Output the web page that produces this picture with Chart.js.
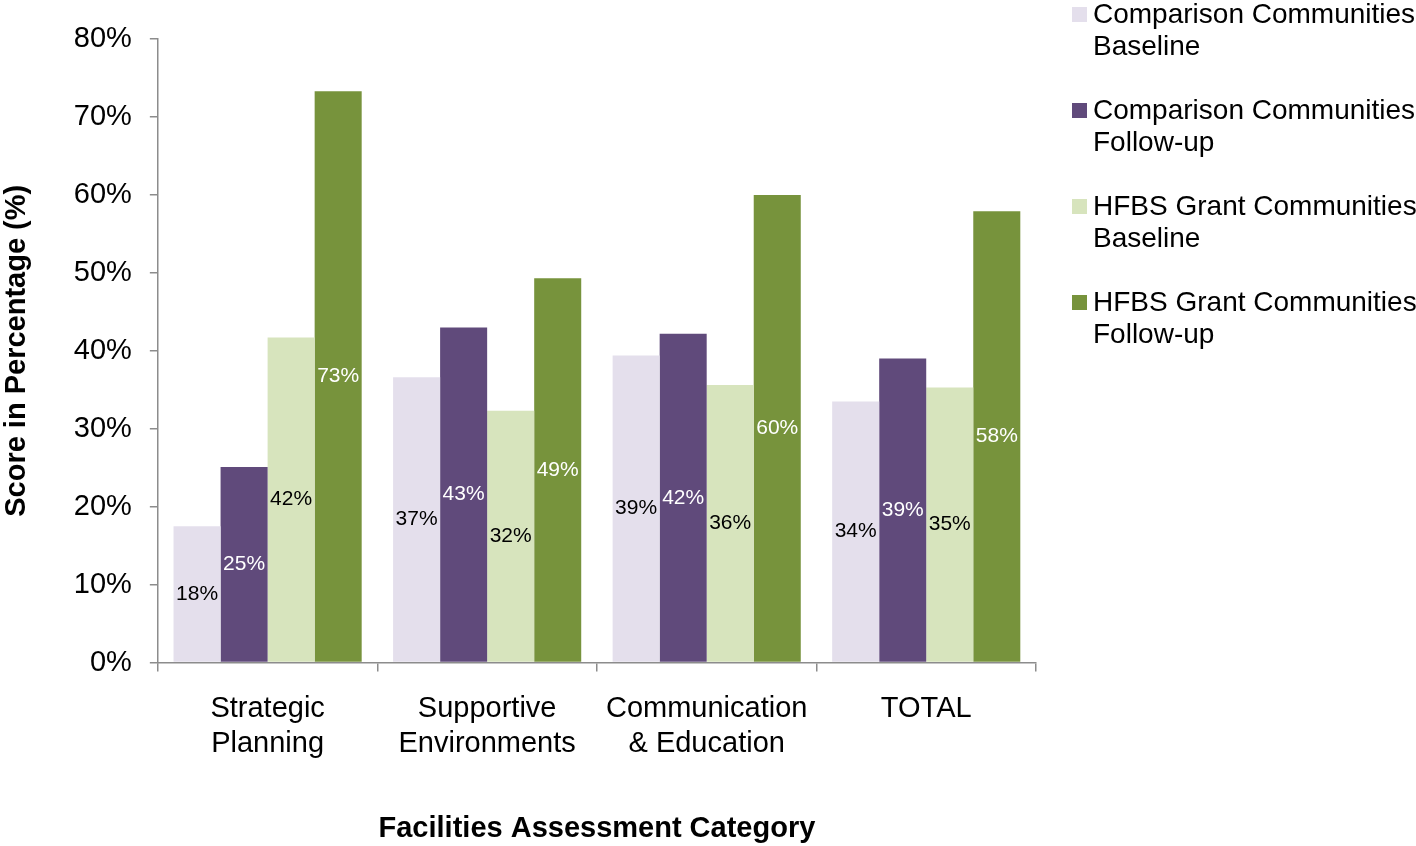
<!DOCTYPE html>
<html>
<head>
<meta charset="utf-8">
<script src="https://cdn.jsdelivr.net/npm/chart.js@4.4.1/dist/chart.umd.min.js"></script>
<style>
  body { margin: 0; background: #fff; }
  #wrap { width: 1416px; height: 846px; position: relative; }
</style>
</head>
<body>
<div id="wrap"><canvas id="chart"></canvas></div>
<script>
const categories = [
  ['Strategic', 'Planning'],
  ['Supportive', 'Environments'],
  ['Communication', '& Education'],
  'TOTAL'
];

const seriesNames = [
  'Comparison Communities Baseline',
  'Comparison Communities Follow-up',
  'HFBS Grant Communities Baseline',
  'HFBS Grant Communities Follow-up'
];
const legendLines = [
  ['Comparison Communities', 'Baseline'],
  ['Comparison Communities', 'Follow-up'],
  ['HFBS Grant Communities', 'Baseline'],
  ['HFBS Grant Communities', 'Follow-up']
];

const compBaseline = [17.5, 36.6, 39.4, 33.5];
const compFollowup = [25.1, 43.0, 42.2, 39.0];
const hfbsBaseline = [41.7, 32.3, 35.6, 35.3];
const hfbsFollowup = [73.3, 49.3, 60.0, 57.9];

const colors = ['#E4DFEC', '#604A7B', '#D7E4BD', '#77933C'];
const labelColors = ['#000', '#fff', '#000', '#fff'];

const FONT = "'Liberation Sans', Arial, sans-serif";
const axisGray = '#8c8c8c';

// value labels in the middle of each bar
const barLabels = {
  id: 'barLabels',
  afterDatasetsDraw(chart) {
    const ctx = chart.ctx;
    ctx.save();
    ctx.font = '21px ' + FONT;
    ctx.textAlign = 'center';
    ctx.textBaseline = 'middle';
    chart.data.datasets.forEach((ds, i) => {
      const meta = chart.getDatasetMeta(i);
      meta.data.forEach((bar, j) => {
        ctx.fillStyle = labelColors[i];
        ctx.fillText(Math.round(ds.data[j]) + '%', bar.x, (bar.y + bar.base) / 2);
      });
    });
    ctx.restore();
  }
};

// two-line legend on the right
const sideLegend = {
  id: 'sideLegend',
  afterDraw(chart) {
    const ctx = chart.ctx;
    const left = chart.chartArea.right + 36;
    ctx.save();
    ctx.font = '28px ' + FONT;
    ctx.textBaseline = 'middle';
    legendLines.forEach((lines, i) => {
      const y = 15 + i * 96;
      ctx.fillStyle = colors[i];
      ctx.fillRect(left, y - 8, 15, 15);
      ctx.fillStyle = '#000';
      lines.forEach((t, k) => ctx.fillText(t, left + 21, y + k * 32));
    });
    ctx.restore();
  }
};

new Chart(document.getElementById('chart'), {
  type: 'bar',
  data: {
    labels: categories,
    datasets: [compBaseline, compFollowup, hfbsBaseline, hfbsFollowup].map((d, i) => ({
      label: seriesNames[i],
      data: d,
      backgroundColor: colors[i],
      borderWidth: 0,
      categoryPercentage: 0.857,
      barPercentage: 1
    }))
  },
  options: {
    responsive: true,
    maintainAspectRatio: false,
    animation: false,
    layout: { padding: { top: 39, right: 380, bottom: 0, left: 0 } },
    plugins: {
      legend: { display: false },
      tooltip: { enabled: false }
    },
    scales: {
      x: {
        grid: { drawOnChartArea: false, color: axisGray, lineWidth: 1.5, tickLength: 9, offset: true },
        border: { color: axisGray, width: 1.5 },
        ticks: { color: '#000', font: { family: FONT, size: 29 }, padding: 20, maxRotation: 0 },
        title: {
          display: true,
          text: 'Facilities Assessment Category',
          color: '#000',
          font: { family: FONT, size: 29, weight: 'bold' },
          padding: { top: 30, bottom: 0 }
        }
      },
      y: {
        min: 0,
        max: 80,
        grid: { drawOnChartArea: false, color: axisGray, lineWidth: 1.5, tickLength: 8 },
        border: { color: axisGray, width: 1.5 },
        ticks: {
          stepSize: 10,
          color: '#000',
          padding: 18,
          font: { family: FONT, size: 29 },
          callback: v => v + '%'
        },
        title: {
          display: true,
          text: 'Score in Percentage (%)',
          color: '#000',
          font: { family: FONT, size: 29, weight: 'bold' },
          padding: { top: 0, bottom: 21 }
        }
      }
    }
  },
  plugins: [barLabels, sideLegend]
});
</script>
</body>
</html>
